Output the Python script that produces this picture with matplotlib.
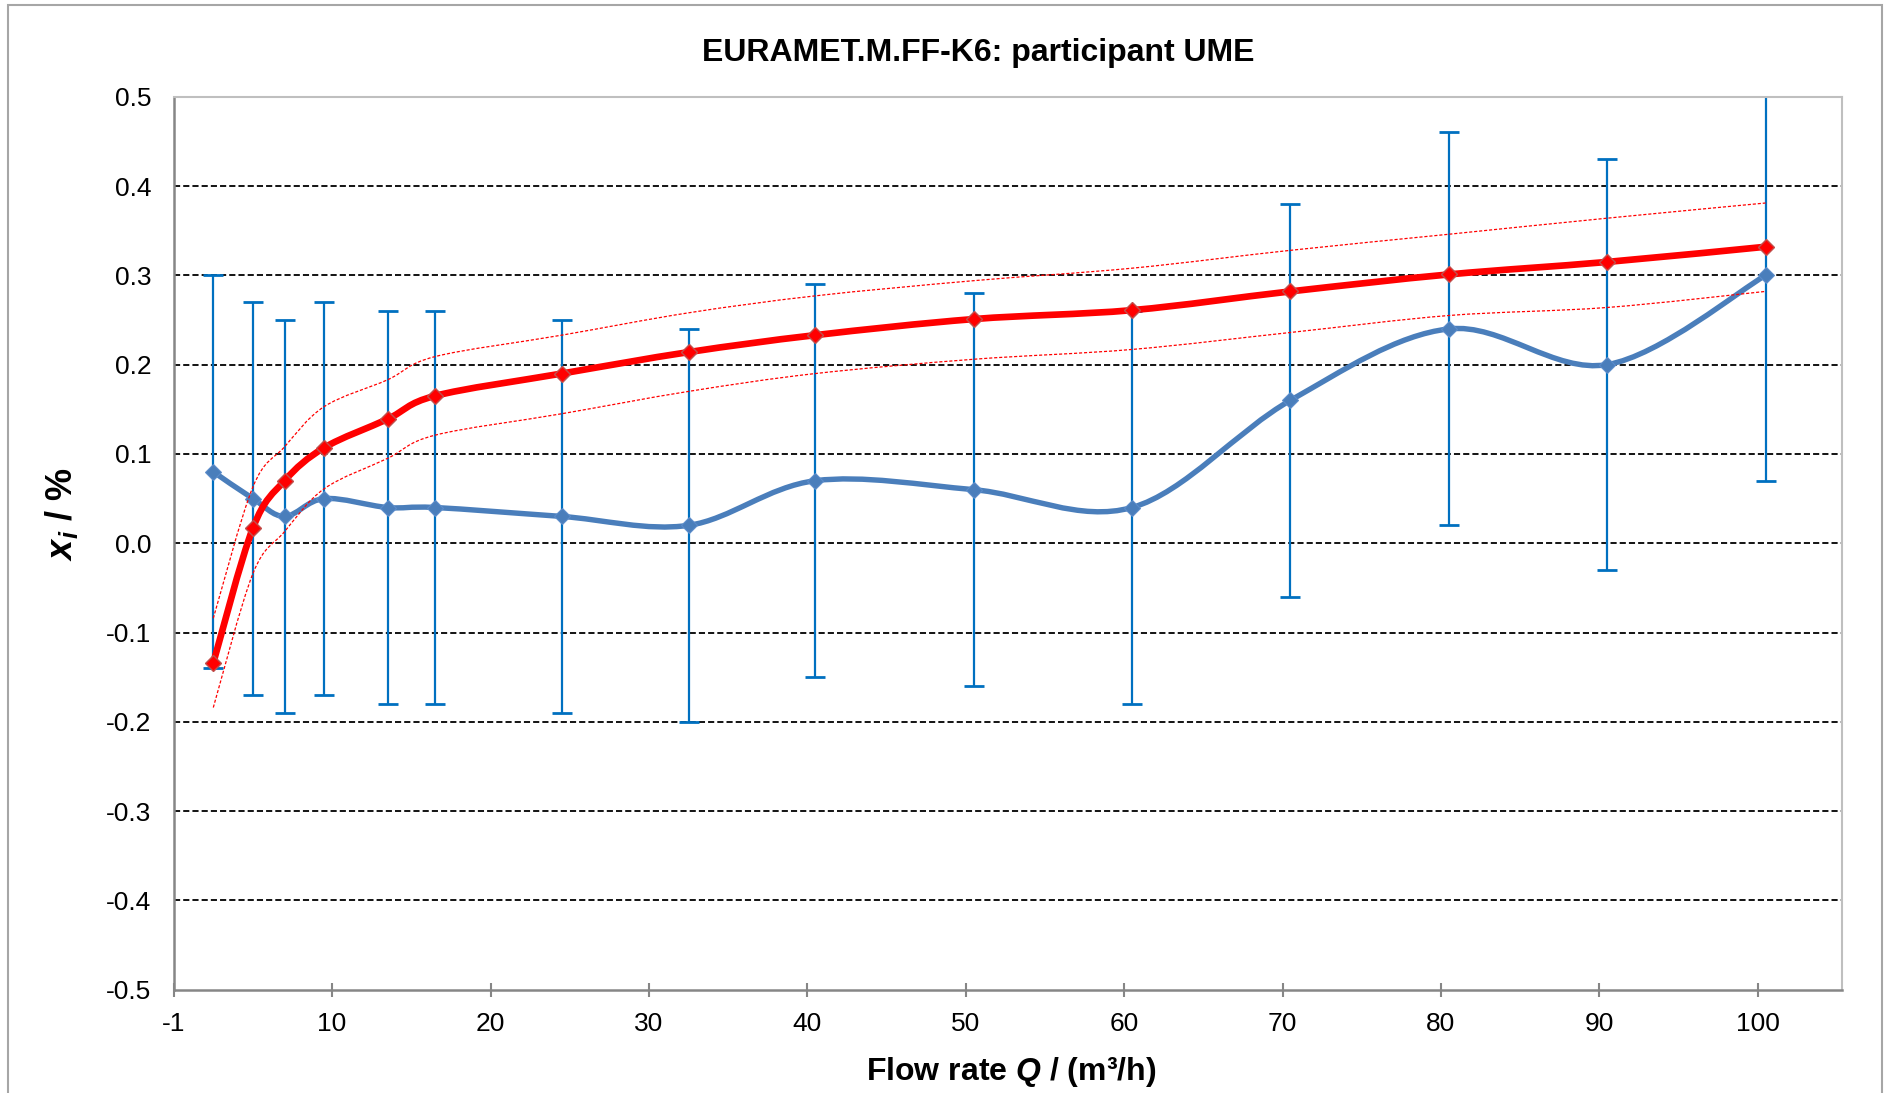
import numpy as np
import matplotlib
matplotlib.use("Agg")
import matplotlib.pyplot as plt
from matplotlib.path import Path
from matplotlib.patches import PathPatch, Rectangle

# flow rates (m3/h)
flow = [2, 4.5, 6.5, 9, 13, 16, 24, 32, 40, 50, 60, 70, 80, 90, 100]
# participant UME deviations and expanded uncertainty (%)
ume = [0.08, 0.05, 0.03, 0.05, 0.04, 0.04, 0.03, 0.02, 0.07, 0.06, 0.04, 0.16, 0.24, 0.20, 0.30]
ume_unc = [0.22, 0.22, 0.22, 0.22, 0.22, 0.22, 0.22, 0.22, 0.22, 0.22, 0.22, 0.22, 0.22, 0.23, 0.23]
# reference curve and its upper/lower bounds (%)
ref = [-0.134, 0.017, 0.070, 0.107, 0.139, 0.165, 0.190, 0.214, 0.233, 0.251, 0.261, 0.282, 0.301, 0.315, 0.332]
ref_hi = [-0.084, 0.063, 0.108, 0.153, 0.183, 0.209, 0.233, 0.258, 0.277, 0.294, 0.308, 0.328, 0.346, 0.364, 0.381]
ref_lo = [-0.184, -0.034, 0.013, 0.061, 0.095, 0.121, 0.145, 0.170, 0.190, 0.206, 0.217, 0.236, 0.255, 0.264, 0.282]

xtick_labels = ["-1", "10", "20", "30", "40", "50", "60", "70", "80", "90", "100"]

BLUE = "#4A7EBB"
EBAR = "#0070C0"
RED = "#FF0000"

plt.rcParams["font.family"] = ["Liberation Sans", "DejaVu Sans"]
plt.rcParams["mathtext.fontset"] = "custom"
plt.rcParams["mathtext.bfit"] = "Liberation Sans:italic:bold"
plt.rcParams["mathtext.it"] = "Liberation Sans:italic"
plt.rcParams["mathtext.rm"] = "Liberation Sans"


def smooth_path(x, y):
    # Excel-style smoothed line: cubic Bezier with Catmull-Rom control points
    n = len(x)
    verts = [(x[0], y[0])]
    codes = [Path.MOVETO]
    for i in range(n - 1):
        a = i - 1 if i > 0 else i
        d = i + 2 if i + 2 < n else i + 1
        c1 = (x[i] + (x[i + 1] - x[a]) / 6, y[i] + (y[i + 1] - y[a]) / 6)
        c2 = (x[i + 1] - (x[d] - x[i]) / 6, y[i + 1] - (y[d] - y[i]) / 6)
        verts += [c1, c2, (x[i + 1], y[i + 1])]
        codes += [Path.CURVE4] * 3
    return Path(verts, codes)


fig = plt.figure(figsize=(18.86, 10.93), dpi=100)
ax = fig.add_axes([0.0921, 0.0945, 0.8844, 0.817])

# outer chart border
fig.patches.append(Rectangle((0.0045, -0.05), 0.9935, 1.0455, transform=fig.transFigure,
                             fill=False, edgecolor="#A6A6A6", lw=1.5))

xmin, xmax = -0.5, 104.8
ax.set_xlim(xmin, xmax)
ax.set_ylim(-0.5, 0.5)

for yv in np.arange(-0.4, 0.41, 0.1):
    ax.axhline(yv, color="black", lw=1.3, dashes=(3.4, 1.7), zorder=1)

# participant with error bars
ax.errorbar(flow, ume, yerr=ume_unc, fmt="none", ecolor=EBAR, elinewidth=1.6,
            capsize=7, capthick=2, zorder=2)
ax.add_patch(PathPatch(smooth_path(flow, ume), facecolor="none", edgecolor=BLUE,
                       lw=3.9, zorder=3, capstyle="round", joinstyle="round"))
ax.plot(flow, ume, ls="none", marker="D", ms=8.5, mfc=BLUE, mec="#5B8CCB", mew=0.8, zorder=4)

# reference curve with bounds
for band in (ref_hi, ref_lo):
    ax.add_patch(PathPatch(smooth_path(flow, band), facecolor="none", edgecolor=RED,
                           lw=0.9, linestyle=(0, (2.5, 1.5)), zorder=5))
ax.add_patch(PathPatch(smooth_path(flow, ref), facecolor="none", edgecolor=RED,
                       lw=4.8, zorder=6, capstyle="round", joinstyle="round"))
ax.plot(flow, ref, ls="none", marker="D", ms=8.5, mfc=RED, mec="#C0504D", mew=1.0, zorder=7)

ax.set_xticks(np.arange(xmin, 100, 10))
ax.set_xticklabels(xtick_labels)
yt = np.round(np.arange(-0.5, 0.51, 0.1), 1)
ax.set_yticks(yt)
ax.set_yticklabels([f"{v:.1f}".replace("-0.0", "0.0") for v in yt])

ax.tick_params(axis="x", direction="inout", length=10, width=1.5, color="#868686",
               labelsize=19, pad=11)
ax.tick_params(axis="y", length=0, labelsize=19, pad=16)

for side in ("left", "bottom"):
    ax.spines[side].set_color("#868686")
    ax.spines[side].set_linewidth(1.8)
for side in ("top", "right"):
    ax.spines[side].set_color("#BFBFBF")
    ax.spines[side].set_linewidth(1.5)

fig.text(0.5186, 0.9515, "EURAMET.M.FF-K6: participant UME", ha="center", va="center",
         fontsize=23, fontweight="bold")
fig.text(0.5363, 0.0195, r"Flow rate $\mathbfit{Q}$ / (m³/h)", ha="center", va="center",
         fontsize=23, fontweight="bold")
fig.text(0.0326, 0.5297, r"$\mathbfit{x}_\mathbfit{i}$ / %", ha="center", va="center",
         rotation=90, fontsize=26, fontweight="bold")

fig.savefig("out.png", dpi=100)
